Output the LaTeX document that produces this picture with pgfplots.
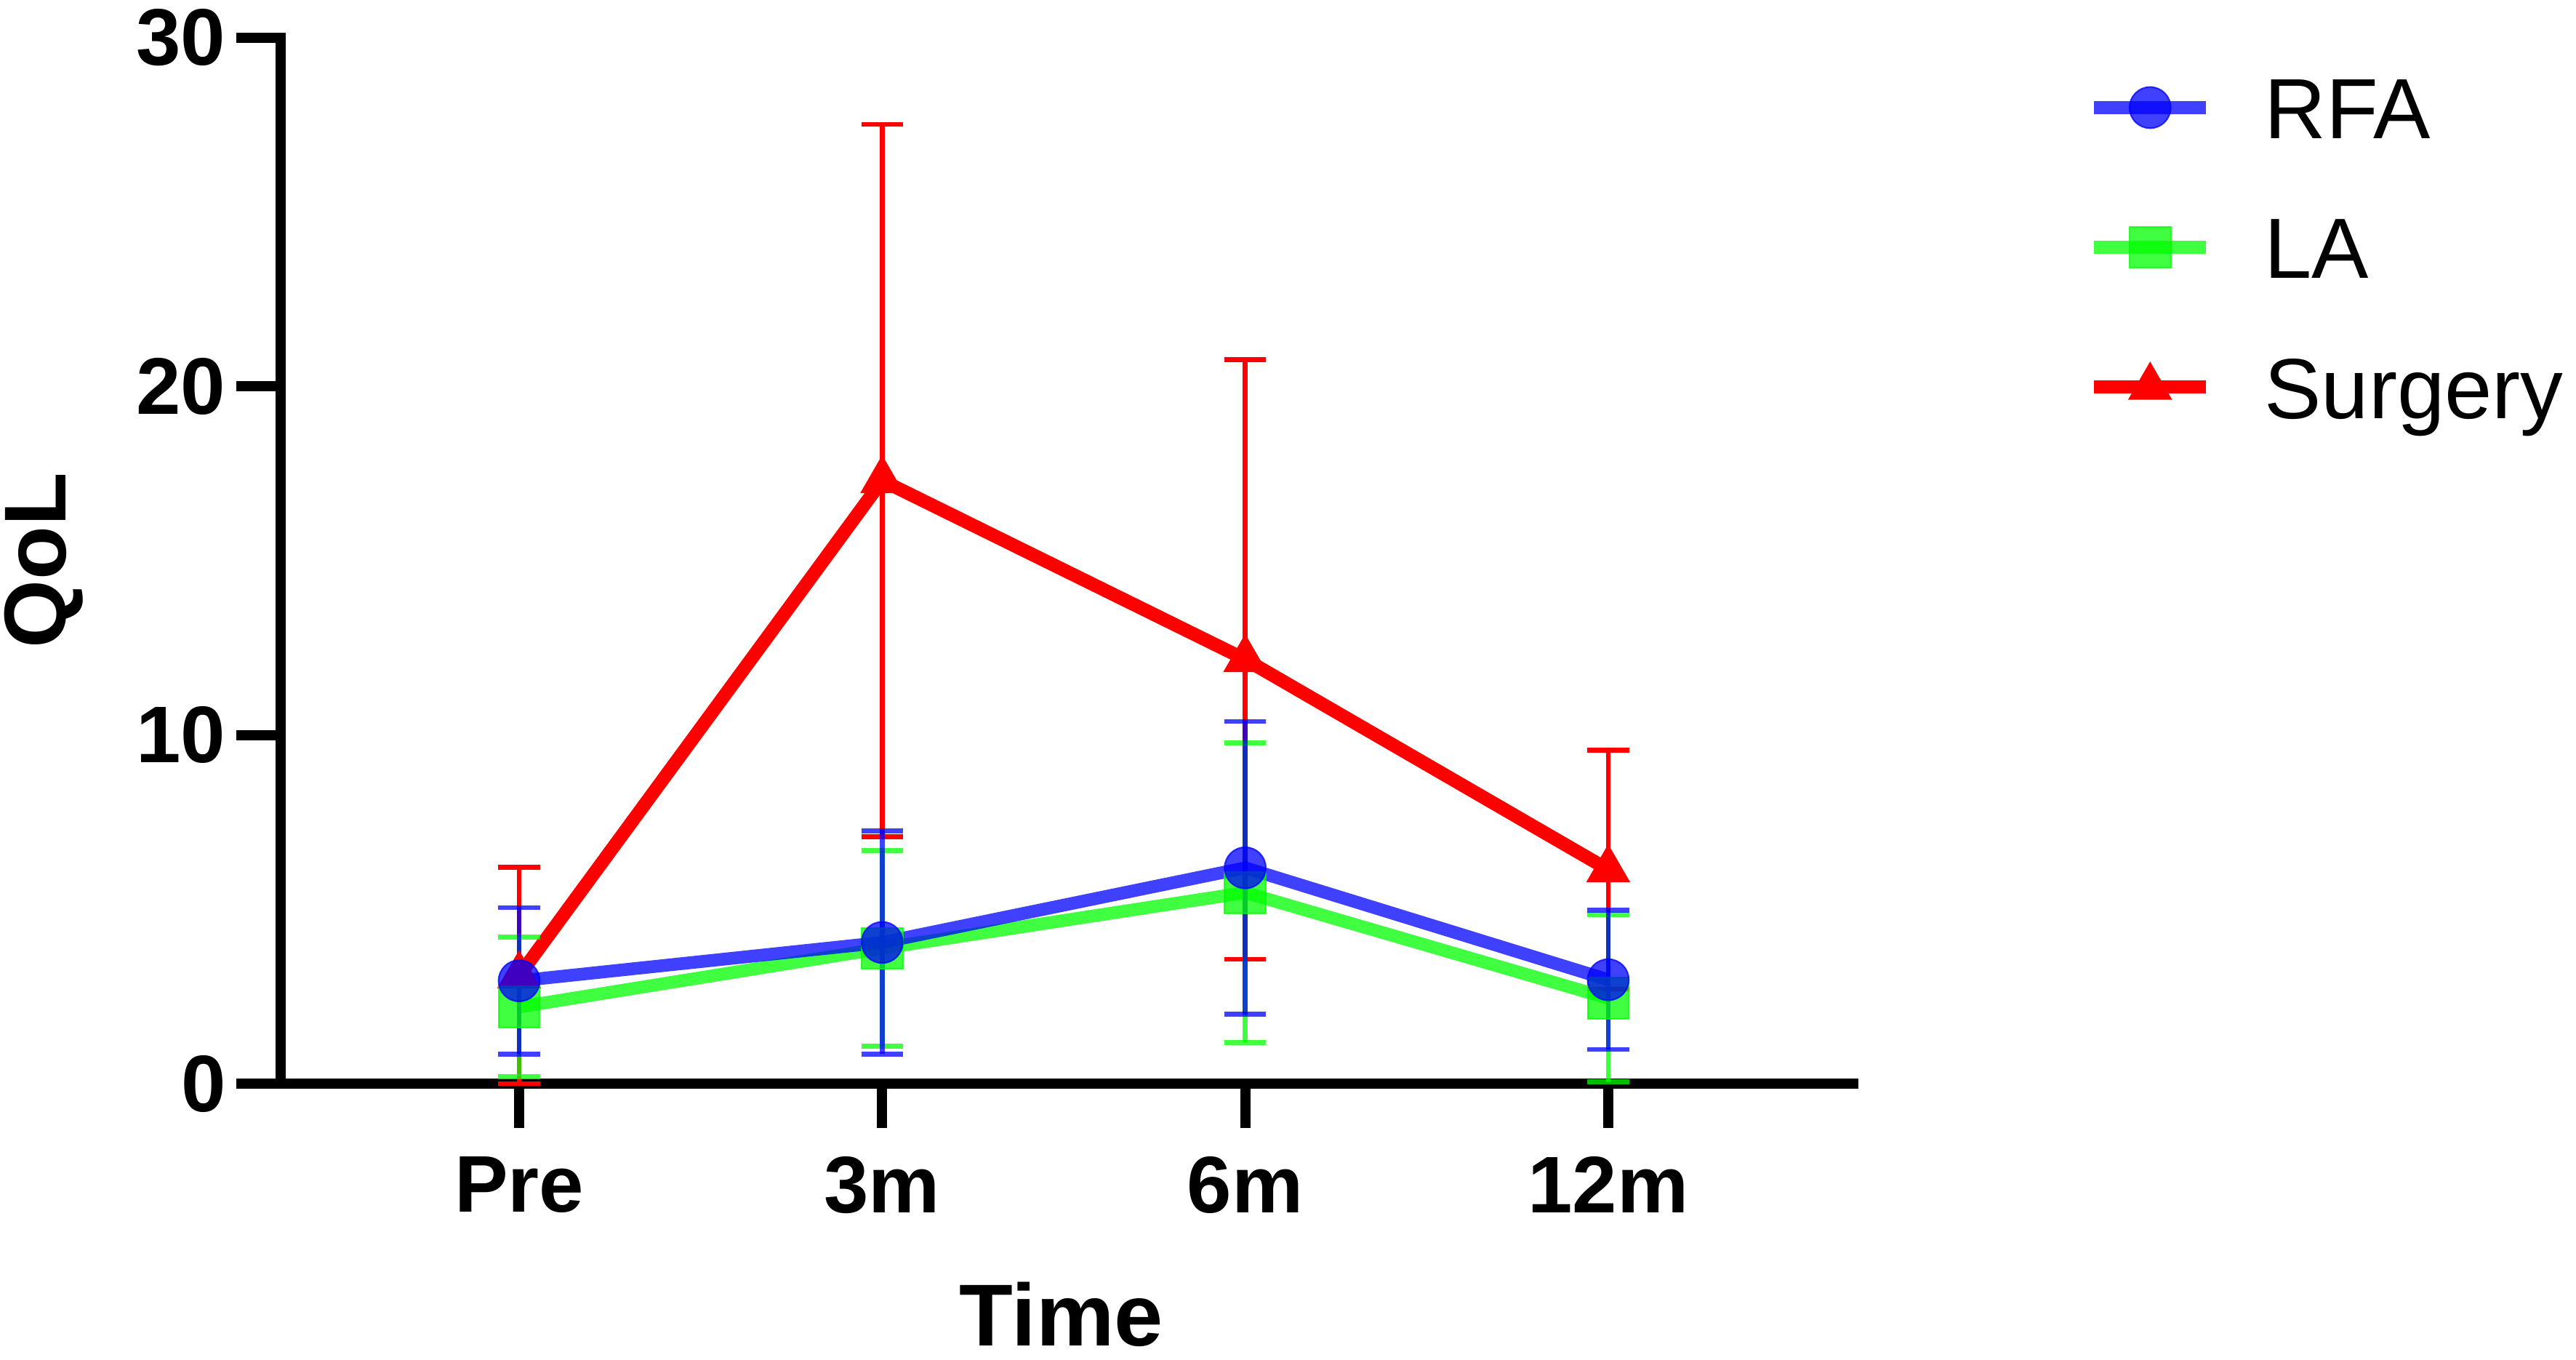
\documentclass[border=0pt]{standalone}
\usepackage{fontspec}
\setmainfont{Liberation Sans}
\usepackage{pgfplots}
\pgfplotsset{compat=1.18}

\definecolor{rfa}{RGB}{0,0,255}
\definecolor{la}{RGB}{0,255,0}
\definecolor{surg}{RGB}{255,0,0}

\begin{document}
\begin{tikzpicture}
% page = 3543 x 1870 px at 300 dpi, axis box origin at px (386,1490)
\useasboundingbox (-92.64pt,-91.2pt) rectangle (757.68pt,357.6pt);
\begin{axis}[
    at={(0pt,0pt)}, anchor=south west,
    scale only axis,
    width=519.1pt, height=345.12pt,
    xmin=-0.657, xmax=3.675,
    ymin=0, ymax=30,
    clip=false,
    axis x line*=bottom, axis y line*=left,
    axis line style={-, line width=3.4pt, line cap=rect, black},
    xtick={0,1,2,3},
    xticklabels={Pre,3m,6m,12m},
    ytick={0,10,20,30},
    minor tick num=0,
    tick align=outside,
    major tick length=14.6pt,
    tick style={line width=3.4pt, black},
    /pgf/number format/assume math mode=true,
    tick label style={font=\fontsize{26.5}{30}\selectfont\bfseries},
    xticklabel style={yshift=-6pt},
    xlabel={\textbf{Time}},
    ylabel={\textbf{QoL}},
    label style={font=\fontsize{29}{34}\selectfont},
    xlabel style={at={(axis description cs:0.4965,-0.251)}, anchor=base},
    ylabel style={at={(axis description cs:-0.1507,0.5)}, anchor=center},
    legend style={
        draw=none, fill=none, inner sep=0pt, outer sep=0pt,
        at={(axis description cs:1.1489,0.9805)}, anchor=north west,
        row sep=13.5pt, column sep=17pt,
        font=\fontsize{28.2}{34}\selectfont,
        nodes={inner sep=0pt, text height=26.6pt, text depth=6pt},
    },
    legend cell align=left,
    legend image code/.code={
        \path[draw=none, fill=none] (0pt,-9pt) (37pt,9pt);
        \draw[mark repeat=2, mark phase=2, #1]
            plot coordinates {(0pt,0pt) (18.5pt,0pt) (37pt,0pt)};
    },
    reverse legend,
]

% Surgery (drawn first, lies underneath)
\addplot[surg, line width=4.4pt,
    mark=triangle*, mark size=7.9pt,
    mark options={solid, fill=surg, draw=surg, line width=0.5pt},
    error bars/.cd, y dir=both, y explicit,
    error bar style={line width=1.6pt, surg},
    error mark options={rotate=90, line width=1.6pt, mark size=6.9pt, surg}]
coordinates {
    (0,3.10)  +- (0,3.10)
    (1,17.30) +- (0,10.22)
    (2,12.17) +- (0,8.60)
    (3,6.14)  +- (0,3.43)
};
\addlegendentry{Surgery}

% LA
\addplot[la, opacity=0.75, line width=4.2pt,
    mark=square*, mark size=6.8pt,
    mark options={solid, fill=la, draw=la, line width=0.5pt},
    error bars/.cd, y dir=both, y explicit,
    error bar style={line width=1.6pt, la},
    error mark options={rotate=90, line width=1.6pt, mark size=6.9pt, la}]
coordinates {
    (0,2.20) +- (0,2.00)
    (1,3.88) +- (0,2.80)
    (2,5.48) +- (0,4.30)
    (3,2.45) +- (0,2.40)
};
\addlegendentry{LA}

% RFA
\addplot[rfa, opacity=0.75, line width=4.2pt,
    mark=*, mark size=6.8pt,
    mark options={solid, fill=rfa, draw=rfa, line width=0.5pt},
    error bars/.cd, y dir=both, y explicit,
    error bar style={line width=1.6pt, rfa},
    error mark options={rotate=90, line width=1.6pt, mark size=6.9pt, rfa}]
coordinates {
    (0,2.95) +- (0,2.10)
    (1,4.05) +- (0,3.20)
    (2,6.19) +- (0,4.20)
    (3,2.98) +- (0,2.00)
};
\addlegendentry{RFA}

\end{axis}
\end{tikzpicture}
\end{document}
